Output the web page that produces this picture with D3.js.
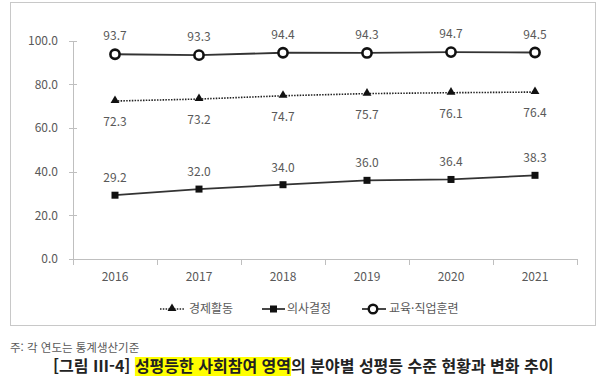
<!DOCTYPE html>
<html lang="ko">
<head>
<meta charset="UTF-8">
<title>성평등한 사회참여 영역</title>
<style>
  body { margin: 0; background: #fff; }
  text { font-family: "Noto Sans CJK KR", "Noto Sans", sans-serif; }
  .axis path, .axis line { stroke: #bfbfbf; shape-rendering: crispEdges; }
  .axis text { fill: #595959; font-size: 12px; }
  .lbl { fill: #595959; font-size: 12px; text-anchor: middle; }
</style>
</head>
<body>
<div id="chart"></div>
<script src="https://d3js.org/d3.v7.min.js"></script>
<script>
var years = ["2016", "2017", "2018", "2019", "2020", "2021"];
var economic = [72.3, 73.2, 74.7, 75.7, 76.1, 76.4];   // 경제활동
var decision = [29.2, 32.0, 34.0, 36.0, 36.4, 38.3];   // 의사결정
var education = [93.7, 93.3, 94.4, 94.3, 94.7, 94.5];  // 교육·직업훈련
var yTicks = [0, 20, 40, 60, 80, 100];
var legendNames = ["경제활동", "의사결정", "교육·직업훈련"];

var width = 600, height = 384;
var svg = d3.select("#chart").append("svg").attr("width", width).attr("height", height);

// 바깥 테두리
svg.append("rect").attr("x", 10.5).attr("y", 2.5).attr("width", 585).attr("height", 323)
  .attr("fill", "none").attr("stroke", "#c8c8c8");

var x = d3.scaleBand().domain(years).range([73, 577]);
var y = d3.scaleLinear().domain([0, 100]).range([259, 40.5]);
var cx = function(i) { return x(years[i]) + x.bandwidth() / 2; };

// y축
var yAxis = svg.append("g").attr("class", "axis").attr("transform", "translate(73,0)")
  .call(d3.axisLeft(y).tickValues(yTicks).tickFormat(d3.format(".1f")).tickSize(4).tickPadding(11));
yAxis.selectAll(".tick line").attr("x1", 4).attr("x2", -4);
yAxis.select(".domain").attr("d", "M0.5," + y(100) + "V" + y(0));

// x축
var xAxis = svg.append("g").attr("class", "axis").attr("transform", "translate(0,259)")
  .call(d3.axisBottom(x).tickSize(0).tickPadding(13));
xAxis.select(".domain").attr("d", "M73,0.5H577");
xAxis.selectAll(".edge").data(years.concat(["end"])).enter().append("line")
  .attr("class", "edge")
  .attr("x1", function(d, i) { return Math.round(73 + i * x.bandwidth()) + 0.5; })
  .attr("x2", function(d, i) { return Math.round(73 + i * x.bandwidth()) + 0.5; })
  .attr("y1", 0).attr("y2", 6);

var line = d3.line().x(function(d, i) { return cx(i); }).y(function(d) { return y(d); });

// 경제활동 - 점선 + 삼각형
svg.append("path").attr("d", line(economic)).attr("fill", "none")
  .attr("stroke", "#222").attr("stroke-width", 1.6).attr("stroke-dasharray", "1.5,1.3");
svg.selectAll(".tri").data(economic).enter().append("path")
  .attr("d", d3.symbol().type(d3.symbolTriangle).size(34))
  .attr("transform", function(d, i) { return "translate(" + cx(i) + "," + (y(d) - 0.5) + ")"; })
  .attr("fill", "#111");
svg.selectAll(".lblE").data(economic).enter().append("text").attr("class", "lbl")
  .attr("x", function(d, i) { return cx(i); }).attr("y", function(d) { return y(d) + 25; })
  .text(function(d) { return d.toFixed(1); });

// 의사결정 - 실선 + 사각형
svg.append("path").attr("d", line(decision)).attr("fill", "none")
  .attr("stroke", "#333").attr("stroke-width", 1.8);
svg.selectAll(".sq").data(decision).enter().append("rect")
  .attr("x", function(d, i) { return cx(i) - 3.5; }).attr("y", function(d) { return y(d) - 3.5; })
  .attr("width", 7).attr("height", 7).attr("fill", "#111");
svg.selectAll(".lblD").data(decision).enter().append("text").attr("class", "lbl")
  .attr("x", function(d, i) { return cx(i); }).attr("y", function(d) { return y(d) - 13; })
  .text(function(d) { return d.toFixed(1); });

// 교육·직업훈련 - 실선 + 원
svg.append("path").attr("d", line(education)).attr("fill", "none")
  .attr("stroke", "#333").attr("stroke-width", 1.8);
svg.selectAll(".cir").data(education).enter().append("circle")
  .attr("cx", function(d, i) { return cx(i); }).attr("cy", function(d) { return y(d); })
  .attr("r", 4.6).attr("fill", "#fff").attr("stroke", "#111").attr("stroke-width", 2.6);
svg.selectAll(".lblC").data(education).enter().append("text").attr("class", "lbl")
  .attr("x", function(d, i) { return cx(i); }).attr("y", function(d) { return y(d) - 14; })
  .text(function(d) { return d.toFixed(1); });

// 범례
var lg = svg.append("g").attr("transform", "translate(0,309)");
lg.append("line").attr("x1", 160).attr("x2", 184).attr("stroke", "#222")
  .attr("stroke-width", 1.6).attr("stroke-dasharray", "1.5,1.3");
lg.append("path").attr("d", d3.symbol().type(d3.symbolTriangle).size(34))
  .attr("transform", "translate(172,-0.5)").attr("fill", "#111");
lg.append("line").attr("x1", 262).attr("x2", 285).attr("stroke", "#333").attr("stroke-width", 1.8);
lg.append("rect").attr("x", 270).attr("y", -3.5).attr("width", 7).attr("height", 7).attr("fill", "#111");
lg.append("line").attr("x1", 362).attr("x2", 386).attr("stroke", "#333").attr("stroke-width", 1.8);
lg.append("circle").attr("cx", 373).attr("cy", 0).attr("r", 4.3)
  .attr("fill", "#fff").attr("stroke", "#111").attr("stroke-width", 2.4);
var legendX = [189, 287, 389];
lg.selectAll(".lt").data(legendNames).enter().append("text")
  .attr("x", function(d, i) { return legendX[i]; }).attr("y", 4)
  .attr("fill", "#595959").style("font-size", "12px")
  .text(function(d) { return d; });

// 주석
svg.append("text").attr("x", 10).attr("y", 352).attr("fill", "#595959")
  .style("font-size", "11.5px").text("주: 각 연도는 통계생산기준");

// 그림 제목
var cap = svg.append("text").attr("x", 53).attr("y", 372).attr("fill", "#222")
  .style("font-size", "16px").style("font-weight", "bold");
cap.append("tspan").text("[그림 Ⅲ-4] ");
var hl = cap.append("tspan").text("성평등한 사회참여 영역");
cap.append("tspan").text("의 분야별 성평등 수준 현황과 변화 추이");
var bb = hl.node().getBBox();
svg.insert("rect", function() { return cap.node(); })
  .attr("x", bb.x).attr("y", 357).attr("width", bb.width).attr("height", 19)
  .attr("fill", "#ffff00");
</script>
</body>
</html>
